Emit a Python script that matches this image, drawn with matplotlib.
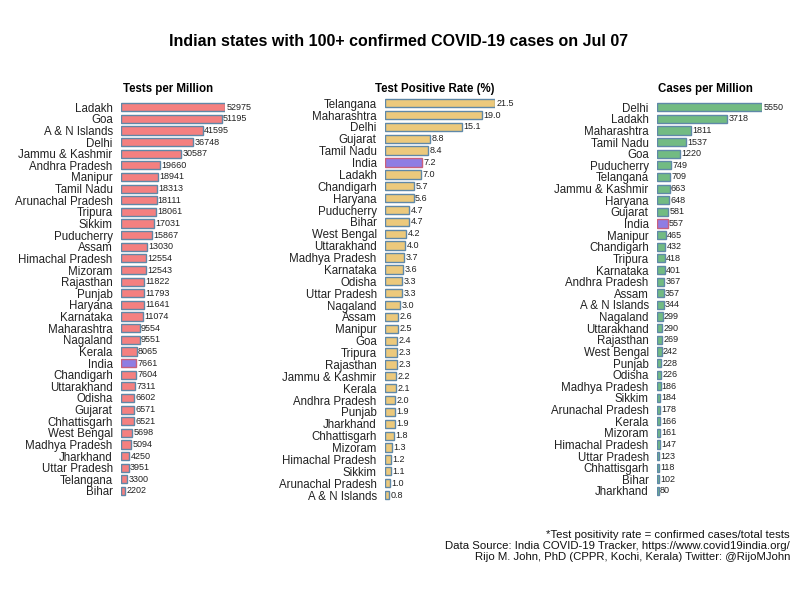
import matplotlib
matplotlib.use("Agg")
import matplotlib.pyplot as plt

plt.rcParams["font.family"] = ["Liberation Sans", "DejaVu Sans"]

# ---------------------------------------------------------------------------
# Data
# ---------------------------------------------------------------------------

tests_states = [
    "Ladakh", "Goa", "A & N Islands", "Delhi", "Jammu & Kashmir", "Andhra Pradesh",
    "Manipur", "Tamil Nadu", "Arunachal Pradesh", "Tripura", "Sikkim", "Puducherry",
    "Assam", "Himachal Pradesh", "Mizoram", "Rajasthan", "Punjab", "Haryana",
    "Karnataka", "Maharashtra", "Nagaland", "Kerala", "India", "Chandigarh",
    "Uttarakhand", "Odisha", "Gujarat", "Chhattisgarh", "West Bengal",
    "Madhya Pradesh", "Jharkhand", "Uttar Pradesh", "Telangana", "Bihar",
]
tests_values = [
    52975, 51195, 41595, 36748, 30587, 19660, 18941, 18313, 18111, 18061, 17031,
    15867, 13030, 12554, 12543, 11822, 11793, 11641, 11074, 9554, 9551, 8065,
    7661, 7604, 7311, 6602, 6571, 6521, 5698, 5094, 4250, 3951, 3300, 2202,
]

tpr_states = [
    "Telangana", "Maharashtra", "Delhi", "Gujarat", "Tamil Nadu", "India", "Ladakh",
    "Chandigarh", "Haryana", "Puducherry", "Bihar", "West Bengal", "Uttarakhand",
    "Madhya Pradesh", "Karnataka", "Odisha", "Uttar Pradesh", "Nagaland", "Assam",
    "Manipur", "Goa", "Tripura", "Rajasthan", "Jammu & Kashmir", "Kerala",
    "Andhra Pradesh", "Punjab", "Jharkhand", "Chhattisgarh", "Mizoram",
    "Himachal Pradesh", "Sikkim", "Arunachal Pradesh", "A & N Islands",
]
tpr_values = [
    21.5, 19.0, 15.1, 8.8, 8.4, 7.2, 7.0, 5.7, 5.6, 4.7, 4.7, 4.2, 4.0, 3.7, 3.6,
    3.3, 3.3, 3.0, 2.6, 2.5, 2.4, 2.3, 2.3, 2.2, 2.1, 2.0, 1.9, 1.9, 1.8, 1.3,
    1.2, 1.1, 1.0, 0.8,
]

cases_states = [
    "Delhi", "Ladakh", "Maharashtra", "Tamil Nadu", "Goa", "Puducherry", "Telangana",
    "Jammu & Kashmir", "Haryana", "Gujarat", "India", "Manipur", "Chandigarh",
    "Tripura", "Karnataka", "Andhra Pradesh", "Assam", "A & N Islands", "Nagaland",
    "Uttarakhand", "Rajasthan", "West Bengal", "Punjab", "Odisha", "Madhya Pradesh",
    "Sikkim", "Arunachal Pradesh", "Kerala", "Mizoram", "Himachal Pradesh",
    "Uttar Pradesh", "Chhattisgarh", "Bihar", "Jharkhand",
]
cases_values = [
    5550, 3718, 1811, 1537, 1220, 749, 709, 663, 648, 581, 557, 465, 432, 418,
    401, 367, 357, 344, 299, 290, 269, 242, 228, 226, 186, 184, 178, 166, 161,
    147, 123, 118, 102, 80,
]

# ---------------------------------------------------------------------------
# Style
# ---------------------------------------------------------------------------

EDGE = "#5f88a8"
INDIA_FILL = "#8f7de3"
INDIA_EDGE = "#c9607c"

PANELS = [
    # states, values, colour, fmt, axes rect, title, title x
    (tests_states, tests_values, "#f48080", "{:.0f}",
     [121 / 800, 0.172, 104 / 800, 0.659], "Tests per Million", 168),
    (tpr_states, tpr_values, "#ecc97c", "{:.1f}",
     [385 / 800, 0.165, 110 / 800, 0.673], "Test Positive Rate (%)", 435),
    (cases_states, cases_values, "#72bb82", "{:.0f}",
     [657 / 800, 0.172, 105 / 800, 0.659], "Cases per Million", 705),
]


def draw_panel(fig, states, values, colour, fmt, rect):
    ax = fig.add_axes(rect)
    n = len(states)
    ypos = list(range(n))
    fills = [INDIA_FILL if s == "India" else colour for s in states]
    edges = [INDIA_EDGE if s == "India" else EDGE for s in states]
    ax.barh(ypos, values, height=0.7, color=fills, edgecolor=edges, linewidth=1.0)
    vmax = max(values)
    for y, v in zip(ypos, values):
        ax.text(v + vmax * 0.012, y, fmt.format(v), va="center", ha="left",
                fontsize=6.5, color="#222222", clip_on=False)
    ax.set_xlim(0, vmax)
    ax.set_ylim(n - 0.5, -0.5)
    ax.set_yticks(ypos)
    ax.set_yticklabels(states, fontsize=8.3, color="#222222")
    ax.tick_params(axis="y", length=0, pad=6)
    ax.set_xticks([])
    for sp in ax.spines.values():
        sp.set_visible(False)
    return ax


fig = plt.figure(figsize=(8, 6), dpi=100)

for states, values, colour, fmt, rect, title, tx in PANELS:
    draw_panel(fig, states, values, colour, fmt, rect)
    fig.text(tx / 800, 1 - 89 / 600, title, ha="center", va="center",
             fontsize=8.3, fontweight="bold")

fig.text(399 / 800, 1 - 42 / 600,
         "Indian states with 100+ confirmed COVID-19 cases on Jul 07",
         ha="center", va="center", fontsize=11.5, fontweight="bold")

footnote = ("*Test positivity rate = confirmed cases/total tests\n"
            "Data Source: India COVID-19 Tracker, https://www.covid19india.org/\n"
            "Rijo M. John, PhD (CPPR, Kochi, Kerala) Twitter: @RijoMJohn")
fig.text(790 / 800, 1 - 530 / 600, footnote, ha="right", va="top",
         fontsize=8.2, linespacing=1.1, color="#111111")

fig.savefig("out.png", dpi=100)
